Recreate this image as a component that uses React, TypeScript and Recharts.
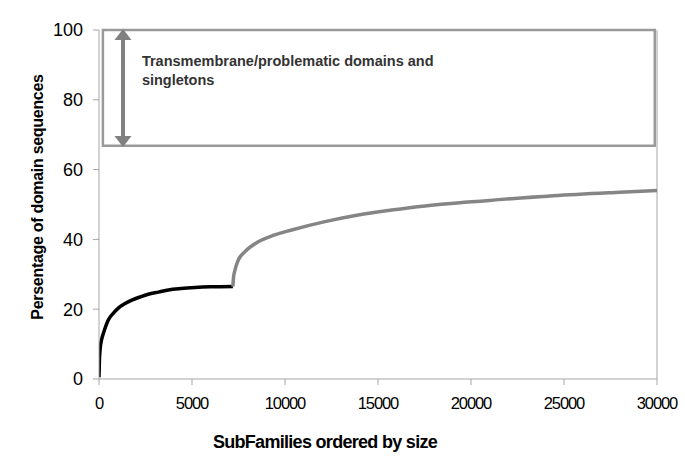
import React from 'react';
import {
  LineChart, Line, XAxis, YAxis, ReferenceArea, ReferenceLine,
} from 'recharts';

// rank of subfamily (x) and cumulative % of domain sequences (y)
const coreX = [0, 20, 60, 150, 250, 500, 800, 1040, 1400, 1760, 2200, 2650, 3200, 3730, 4400, 5160, 6000, 7200];
const coreY = [0.5, 5, 8.5, 11.5, 13.3, 16.9, 19, 20.3, 21.6, 22.6, 23.5, 24.3, 24.9, 25.5, 25.9, 26.2, 26.4, 26.5];
const tailX = [7200, 7230, 7310, 7490, 7850, 8560, 9400, 10360, 12150, 13940, 15730, 17530, 20840, 24430, 28010, 30000];
const tailY = [26.5, 29, 31.2, 34.1, 36.5, 39.3, 41.2, 42.7, 45.1, 47.0, 48.4, 49.6, 51.1, 52.5, 53.5, 54];

const xTicks = [0, 5000, 10000, 15000, 20000, 25000, 30000];
const yTicks = [0, 20, 40, 60, 80, 100];

const boxNote = ['Transmembrane/problematic domains and', 'singletons'];

const core = coreX.map((x, i) => ({ x, y: coreY[i] }));
const tail = tailX.map((x, i) => ({ x, y: tailY[i] }));

const AXIS = '#a6a6a6';
const FONT = 'Arial, Liberation Sans, sans-serif';

function ArrowShape(props: any) {
  const { x1, y1, x2, y2 } = props;
  if (x1 == null) return null;
  const x = x1;
  const top = Math.min(y1, y2);
  const bot = Math.max(y1, y2);
  const hw = 8.5, hh = 11;
  return (
    <g>
      <line x1={x} y1={top + hh - 1} x2={x} y2={bot - hh + 1} stroke="#808080" strokeWidth={4} />
      <polygon points={`${x},${top} ${x - hw},${top + hh} ${x + hw},${top + hh}`} fill="#808080" />
      <polygon points={`${x},${bot} ${x - hw},${bot - hh} ${x + hw},${bot - hh}`} fill="#808080" />
    </g>
  );
}

function BoxLabel({ viewBox }: any) {
  const { x, y } = viewBox;
  return (
    <text x={x + 39} y={y + 36} fontFamily={FONT} fontWeight="bold" fontSize={14.5} fill="#333">
      <tspan x={x + 39}>{boxNote[0]}</tspan>
      <tspan x={x + 39} dy={19}>{boxNote[1]}</tspan>
    </text>
  );
}

export default function App() {
  return (
    <div style={{ position: 'absolute', left: 0, top: 0, background: '#fff' }}>
      <LineChart width={685} height={470} margin={{ top: 30, right: 28, left: 0, bottom: 0 }}>
        <XAxis
          type="number"
          dataKey="x"
          domain={[0, 30000]}
          ticks={xTicks}
          allowDataOverflow
          height={91}
          stroke={AXIS}
          tickSize={6}
          tickMargin={12}
          tick={{ fill: '#000', fontSize: 16.5, fontFamily: FONT, letterSpacing: -1.1 }}
          label={{
            content: () => (
              <text x={325} y={448} textAnchor="middle" fontFamily={FONT} fontWeight="bold" fontSize={18} letterSpacing={-0.7} fill="#000">
                SubFamilies ordered by size
              </text>
            ),
          }}
        />
        <YAxis
          type="number"
          dataKey="y"
          domain={[0, 100]}
          ticks={yTicks}
          width={99}
          stroke={AXIS}
          tickSize={6}
          tickMargin={10}
          tick={{ fill: '#000', fontSize: 18, fontFamily: FONT }}
          label={{
            content: () => (
              <text
                x={43}
                y={197}
                transform="rotate(-90 43 197)"
                textAnchor="middle"
                fontFamily={FONT}
                fontWeight="bold"
                fontSize={16}
                letterSpacing={-0.3}
                fill="#000"
              >
                Persentage of domain sequences
              </text>
            ),
          }}
        />
        <ReferenceLine x={30000} stroke={AXIS} strokeWidth={1} />
        <ReferenceArea
          x1={210}
          x2={29880}
          y1={66.8}
          y2={100}
          fill="#fff"
          fillOpacity={1}
          stroke="#9a9a9a"
          strokeWidth={2.5}
          label={<BoxLabel />}
        />
        <ReferenceLine
          segment={[{ x: 1290, y: 100.3 }, { x: 1290, y: 66.5 }]}
          ifOverflow="visible"
          shape={ArrowShape}
        />
        <Line data={core} dataKey="y" type="monotone" stroke="#000" strokeWidth={3.5} dot={false} isAnimationActive={false} />
        <Line data={tail} dataKey="y" type="monotone" stroke="#858585" strokeWidth={3.5} dot={false} isAnimationActive={false} />
      </LineChart>
    </div>
  );
}
